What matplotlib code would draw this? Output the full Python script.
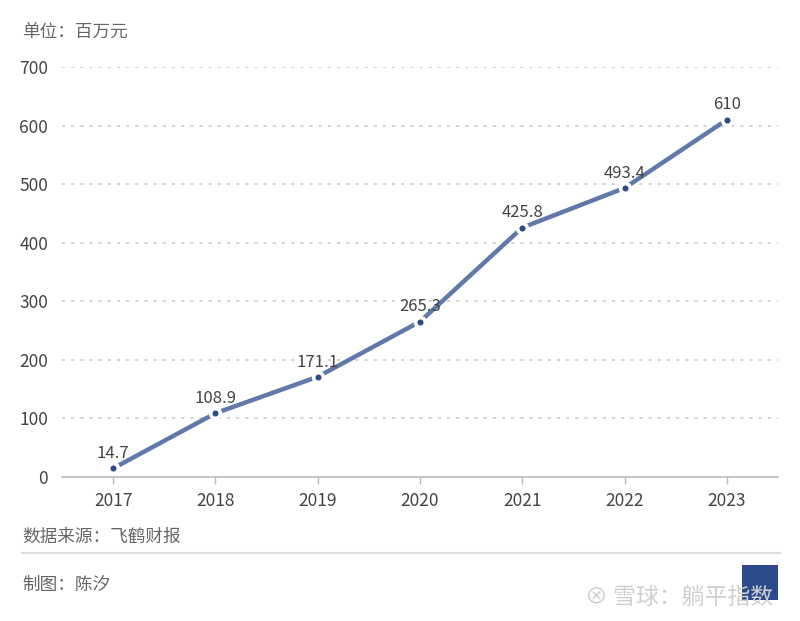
import matplotlib
matplotlib.use("Agg")
import matplotlib.pyplot as plt
from matplotlib.lines import Line2D
from matplotlib.patches import Rectangle

plt.rcParams['font.family'] = ['Noto Sans CJK SC', 'DejaVu Sans']

years = ['2017', '2018', '2019', '2020', '2021', '2022', '2023']
values = [14.7, 108.9, 171.1, 265.3, 425.8, 493.4, 610]
labels = ['14.7', '108.9', '171.1', '265.3', '425.8', '493.4', '610']
yticks = [0, 100, 200, 300, 400, 500, 600, 700]

fig = plt.figure(figsize=(8, 6.21), dpi=100)
ax = fig.add_axes([0.0775, 0.2319, 0.895, 0.6602])

x = list(range(len(years)))
ax.plot(x, values, color='#6079a8', lw=3.2, solid_capstyle='butt', zorder=3)
ax.plot(x, values, ls='none', marker='o', ms=7, mfc='#2e4a86', mec='white', mew=2.6, zorder=4)

for xi, v, t in zip(x, values, labels):
    ax.annotate(t, (xi, v), xytext=(0, 4.5), textcoords='offset points', ha='center', va='bottom',
                fontsize=12, color='#444444', zorder=5)

ax.set_xlim(-0.5, len(years) - 0.5)
ax.set_ylim(0, 700)
ax.set_yticks(yticks)
ax.set_yticklabels([str(v) for v in yticks])
ax.set_xticks(x)
ax.set_xticklabels(years)

for v in yticks[1:]:
    ax.axhline(v, color='#c8c8c8', lw=1.1, ls=(0, (2, 4)), zorder=1)

for s in ['top', 'right', 'left']:
    ax.spines[s].set_visible(False)
ax.spines['bottom'].set_color('#bbbbbb')
ax.spines['bottom'].set_linewidth(1.2)

ax.tick_params(axis='y', length=0, pad=10, labelsize=12.5, labelcolor='#444444')
ax.tick_params(axis='x', length=5, width=1, color='#bbbbbb', pad=6, labelsize=12.5, labelcolor='#444444')

fig.text(22/800, 1 - 33/621, '单位：百万元', fontsize=12.7, color='#666666', ha='left', va='center')
fig.text(22/800, 1 - 537/621, '数据来源：飞鹤财报', fontsize=12.7, color='#666666', ha='left', va='center')
fig.text(22/800, 1 - 585/621, '制图：陈汐', fontsize=12.7, color='#666666', ha='left', va='center')

fig.add_artist(Line2D([22/800, 780/800], [1 - 553/621, 1 - 553/621], color='#dddddd', lw=1.5,
                      transform=fig.transFigure))

fig.add_artist(Rectangle((742/800, 1 - 600/621), 36/800, 35/621, transform=fig.transFigure,
                         facecolor='#2a4a8c', edgecolor='none', zorder=1))
fig.text(585/800, 1 - 597/621, '⊗ 雪球：躺平指数', fontsize=16.5, color='#d0d0d0', ha='left', va='center',
         family=['Noto Sans CJK SC', 'DejaVu Sans'], zorder=2)

fig.savefig('out.png', dpi=100, facecolor='white')
